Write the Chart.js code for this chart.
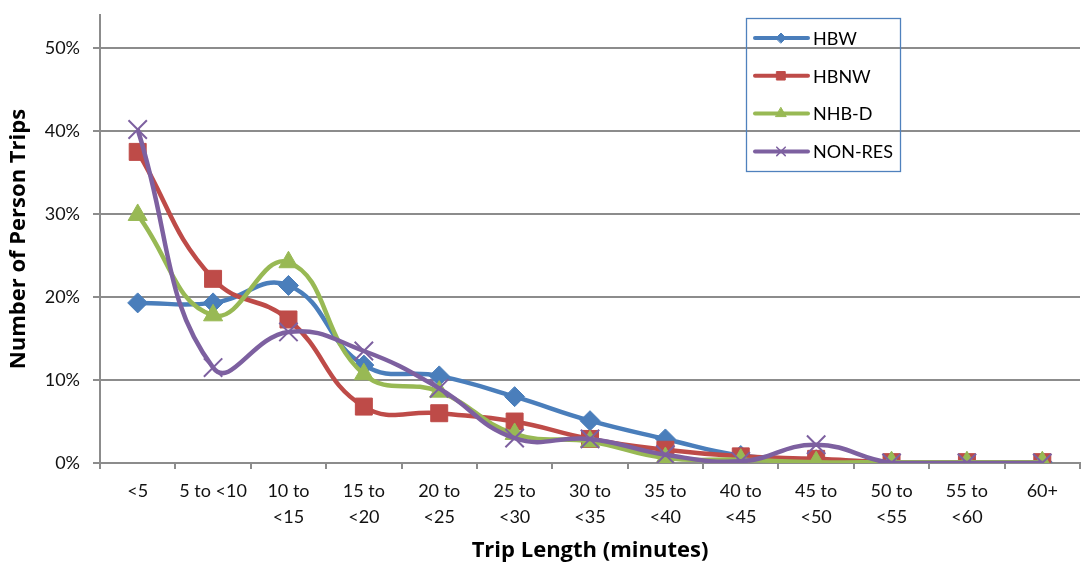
<!DOCTYPE html>
<html>
<head>
<meta charset="utf-8">
<script src="https://cdn.jsdelivr.net/npm/chart.js@4/dist/chart.umd.min.js"></script>
<style>
  html, body { margin: 0; padding: 0; background: #fff; overflow: hidden; }
  #wrap { width: 1095px; height: 573px; }
</style>
</head>
<body>
<div id="wrap"><canvas id="myChart" width="1095" height="573"></canvas></div>
<script>
// trip length bins (two-line labels where the original wraps)
var categories = ["<5", "5 to <10", ["10 to", "<15"], ["15 to", "<20"], ["20 to", "<25"], ["25 to", "<30"],
  ["30 to", "<35"], ["35 to", "<40"], ["40 to", "<45"], ["45 to", "<50"], ["50 to", "<55"], ["55 to", "<60"], "60+"];

// share of person trips, percent
var hbw    = [19.3, 19.3, 21.4, 11.8, 10.5, 8.0, 5.1, 2.9, 0.9, 0.4, 0.1, 0.1, 0.1];
var hbnw   = [37.5, 22.2, 17.3, 6.8, 6.0, 5.0, 2.9, 1.6, 0.8, 0.5, 0.1, 0.1, 0.1];
var nhbd   = [29.9, 17.8, 24.2, 10.7, 8.6, 3.5, 2.6, 0.6, 0.4, 0.1, 0.1, 0.1, 0.1];
var nonres = [40.2, 11.5, 15.8, 13.5, 9.0, 3.0, 2.9, 1.0, 0.2, 2.2, 0.0, 0.0, 0.0];

var yTicks = [0, 10, 20, 30, 40, 50];

var seriesNames  = ["HBW", "HBNW", "NHB-D", "NON-RES"];
var seriesColors = ["#4A7EBB", "#BE4B48", "#98B954", "#7D60A0"];
var seriesMarks  = ["rectRot", "rect", "triangle", "crossRot"];

var font = "Lato, 'Liberation Sans', sans-serif";
var titleFont = "'Open Sans', Lato, sans-serif";
var gridGray = "#8c8c8c";

function makeSet(i, values, radius, order) {
  return {
    label: seriesNames[i],
    data: values,
    borderColor: seriesColors[i],
    backgroundColor: seriesColors[i],
    pointBackgroundColor: seriesColors[i],
    pointBorderColor: seriesColors[i],
    pointStyle: seriesMarks[i],
    pointRadius: radius,
    pointBorderWidth: seriesMarks[i] == "crossRot" ? 2 : 1,
    borderWidth: 4.5,
    tension: 0.45,
    fill: false,
    order: order
  };
}

// draw the boxed legend inside the plot, like the original
var boxLegend = {
  id: "boxLegend",
  afterDraw: function(chart) {
    var ctx = chart.ctx;
    var sizes = [5, 6, 6, 6];
    ctx.save();
    ctx.strokeStyle = "#4F81BD";
    ctx.lineWidth = 1.3;
    ctx.strokeRect(746.5, 18.5, 154, 153);
    for (var i = 0; i < seriesNames.length; i++) {
      var y = 38 + i * 37.8;
      ctx.strokeStyle = seriesColors[i];
      ctx.lineWidth = 4;
      ctx.lineCap = "round";
      ctx.beginPath();
      ctx.moveTo(755, y);
      ctx.lineTo(808, y);
      ctx.stroke();
      ctx.fillStyle = seriesColors[i];
      ctx.lineWidth = seriesMarks[i] == "crossRot" ? 1.5 : 1;
      if (Chart.helpers && Chart.helpers.drawPoint) {
        Chart.helpers.drawPoint(ctx, { pointStyle: seriesMarks[i], radius: sizes[i], borderWidth: ctx.lineWidth }, 781, y);
      }
      ctx.fillStyle = "#000";
      ctx.font = "18px " + font;
      ctx.textBaseline = "middle";
      ctx.textAlign = "left";
      ctx.fillText(seriesNames[i], 813, y + 1);
    }
    ctx.restore();
  }
};

new Chart("myChart", {
  type: "line",
  data: {
    labels: categories,
    datasets: [
      makeSet(0, hbw, 10, 4),
      makeSet(1, hbnw, 12, 3),
      makeSet(2, nhbd, 11, 2),
      makeSet(3, nonres, 13, 1)
    ]
  },
  plugins: [boxLegend],
  options: {
    responsive: false,
    animation: false,
    layout: { padding: { top: 5, right: 2, left: 0, bottom: 0 } },
    plugins: {
      legend: { display: false },
      tooltip: { enabled: false }
    },
    scales: {
      x: {
        offset: true,
        afterFit: function(s) { s.height = 110; s.paddingLeft = 0; s.paddingRight = 0; },
        grid: {
          offset: true,
          drawOnChartArea: false,
          drawTicks: true,
          tickLength: 6,
          color: gridGray,
          lineWidth: 2
        },
        border: { color: gridGray, width: 2 },
        ticks: {
          color: "#111",
          font: { family: font, size: 18, lineHeight: 1.45 },
          padding: 9,
          maxRotation: 0,
          autoSkip: false
        },
        title: {
          display: true,
          text: "Trip Length (minutes)",
          color: "#000",
          font: { family: titleFont, size: 22, weight: "bold" },
          padding: { top: 0, bottom: 9 }
        }
      },
      y: {
        min: 0,
        max: 54,
        afterFit: function(s) { s.width = 100; s.paddingTop = 0; s.paddingBottom = 0; },
        afterBuildTicks: function(s) {
          s.ticks = yTicks.map(function(v) { return { value: v }; });
        },
        grid: {
          color: gridGray,
          lineWidth: 2,
          tickLength: 7
        },
        border: { color: gridGray, width: 2 },
        ticks: {
          color: "#111",
          font: { family: font, size: 18 },
          padding: 13,
          callback: function(v) { return v + "%"; }
        },
        title: {
          display: true,
          text: "Number of Person Trips",
          color: "#000",
          font: { family: titleFont, size: 22, weight: "bold" },
          padding: { top: 6, bottom: 0 }
        }
      }
    }
  }
});
</script>
</body>
</html>
